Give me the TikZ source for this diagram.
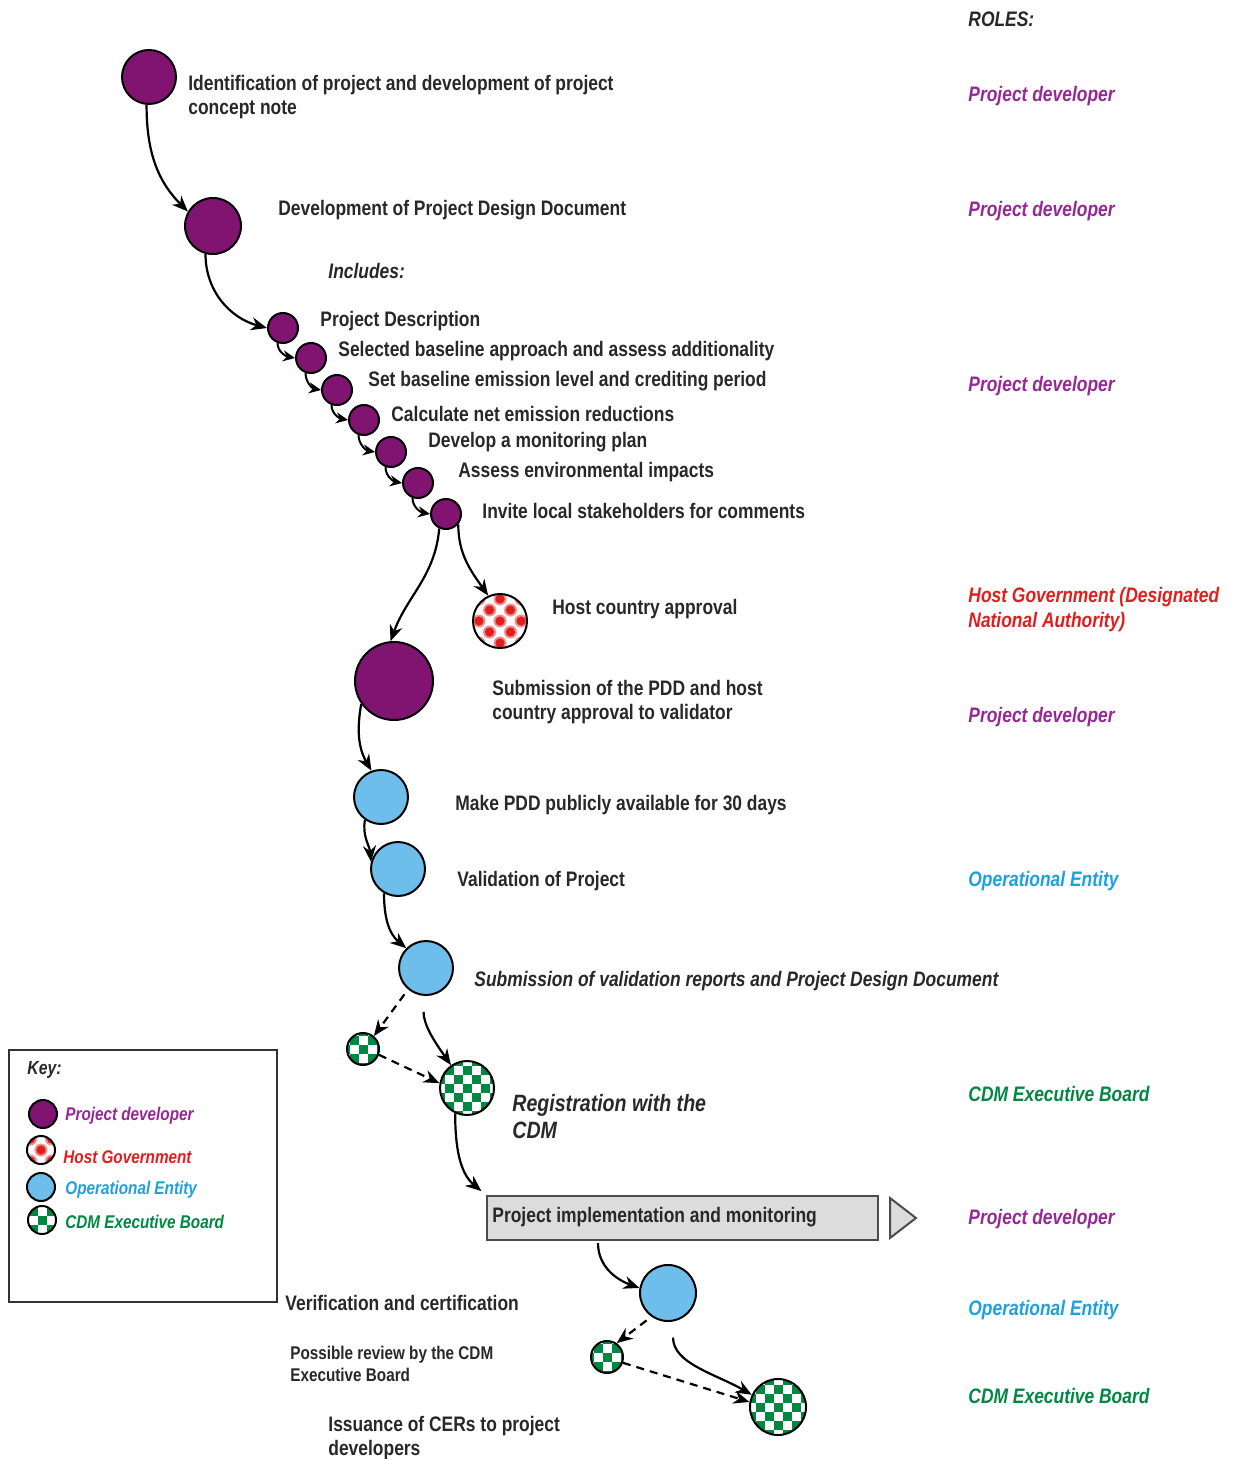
\documentclass[tikz,border=0pt]{standalone}
\usepackage{fontspec}
\setmainfont{Liberation Sans}[FakeStretch=0.83]
\usetikzlibrary{arrows.meta}
\definecolor{pdcol}{RGB}{128,20,112}
\definecolor{pdtxt}{RGB}{150,40,150}
\definecolor{oecol}{RGB}{110,190,235}
\definecolor{oetxt}{RGB}{30,160,220}
\definecolor{cdmcol}{RGB}{0,135,65}
\definecolor{hgcol}{RGB}{225,30,30}
\definecolor{txt}{RGB}{40,40,40}
\definecolor{boxfill}{RGB}{220,220,220}
\newcommand\mychecker[1]{%
  \begin{scope}[shift={(path picture bounding box.center)}]
  \foreach \i in {-4,...,4}{\foreach \j in {-4,...,4}{%
    \pgfmathtruncatemacro\kk{mod(\i+\j+8,2)}%
    \ifnum\kk=0 \fill[cdmcol] ({(\i-0.5)*#1},{(\j-0.5)*#1}) rectangle ++(#1,#1);\fi}}
  \end{scope}}
\newcommand\mydots{%
  \begin{scope}[shift={(path picture bounding box.center)}]
  \foreach \i in {-3,...,3}{\foreach \j in {-3,...,3}{%
    \pgfmathtruncatemacro\kk{mod(\i+\j+8,2)}%
    \ifnum\kk=0 \fill[hgcol!50] (\i*10.5,\j*11) circle (6.5);\fill[hgcol] (\i*10.5,\j*11) circle (4.6);\fi}}
  \end{scope}}
\tikzset{
  pd/.style={circle,draw=black,line width=1pt,fill=pdcol,inner sep=0,minimum size=#1},
  oe/.style={circle,draw=black,line width=1pt,fill=oecol,inner sep=0,minimum size=#1},
  cdm/.style={circle,draw=black,line width=1pt,fill=white,inner sep=0,minimum size=#1,path picture={\mychecker{9}}},
  hg/.style={circle,draw=black,line width=1pt,fill=white,inner sep=0,minimum size=#1,path picture={\mydots}},
  arr/.style={line width=1.1pt,draw=black,-{Stealth[length=8pt,width=6.5pt]}},
  sarr/.style={line width=1pt,draw=black,-{Stealth[length=6pt,width=5.5pt]}},
  darr/.style={arr,dash pattern=on 4pt off 3pt},
  lbl/.style={anchor=west,inner sep=0,text=txt,font=\bfseries\fontsize{10.5}{12}\selectfont,align=left},
  ilbl/.style={lbl,font=\bfseries\itshape\fontsize{10.5}{12}\selectfont},
  role/.style={anchor=west,inner sep=0,font=\bfseries\itshape\fontsize{10.5}{12.5}\selectfont,align=left},
  keytxt/.style={anchor=west,inner sep=0,font=\bfseries\itshape\fontsize{9.2}{10}\selectfont},
}
\begin{document}
\begin{tikzpicture}[x=0.5pt,y=0.5pt]
\useasboundingbox (0,0) rectangle (1236,-1459);
% roles
\node[role,text=txt] (roles) at (968,-19) {ROLES:};
\node[role,text=pdtxt] (r1) at (968,-96) {Project developer};
\node[role,text=pdtxt] (r2) at (968,-211) {Project developer};
\node[role,text=pdtxt] (r3) at (968,-386) {Project developer};
\node[role,text=hgcol] (r4) at (968,-610) {Host Government (Designated\\National Authority)};
\node[role,text=pdtxt] (r5) at (968,-717) {Project developer};
\node[role,text=oetxt] (r6) at (968,-881) {Operational Entity};
\node[role,text=cdmcol] (r7) at (968,-1094) {CDM Executive Board};
\node[role,text=pdtxt] (r8) at (968,-1219) {Project developer};
\node[role,text=oetxt] (r9) at (968,-1310) {Operational Entity};
\node[role,text=cdmcol] (r10) at (968,-1396) {CDM Executive Board};
% main circles
\node[pd=27pt] (c1) at (149,-77) {};
\node[lbl] (t1) at (188,-97) {Identification of project and development of project\\concept note};
\node[pd=28pt] (c2) at (213,-226) {};
\node[lbl] (t2) at (278,-210) {Development of Project Design Document};
\node[ilbl] (inc) at (328,-271) {Includes:};
\node[pd=15pt] (s1) at (283,-328) {};
\node[pd=15pt] (s2) at (311,-358) {};
\node[pd=15pt] (s3) at (337,-390) {};
\node[pd=15pt] (s4) at (364,-420) {};
\node[pd=15pt] (s5) at (391,-452) {};
\node[pd=15pt] (s6) at (418,-483) {};
\node[pd=15pt] (s7) at (446,-514) {};
\node[lbl] (ts1) at (320,-321) {Project Description};
\node[lbl] (ts2) at (338,-351) {Selected baseline approach and assess additionality};
\node[lbl] (ts3) at (368,-381) {Set baseline emission level and crediting period};
\node[lbl] (ts4) at (391,-414) {Calculate net emission reductions};
\node[lbl] (ts5) at (428,-442) {Develop a monitoring plan};
\node[lbl] (ts6) at (458,-472) {Assess environmental impacts};
\node[lbl] (ts7) at (482,-511) {Invite local stakeholders for comments};
\node[hg=27pt] (h1) at (500,-621) {};
\node[lbl] (th1) at (552,-609) {Host country approval};
\node[pd=39pt] (c3) at (394,-681) {};
\node[lbl] (tc3) at (492,-702) {Submission of the PDD and host\\country approval to validator};
\node[oe=27pt] (b1) at (381,-797) {};
\node[lbl] (tb1) at (455,-805) {Make PDD publicly available for 30 days};
\node[oe=27pt] (b2) at (398,-869) {};
\node[lbl] (tb2) at (457,-881) {Validation of Project};
\node[oe=27pt] (b3) at (426,-968) {};
\node[ilbl] (tb3) at (474,-981) {Submission of validation reports and Project Design Document};
\node[cdm=16pt] (k1) at (363,-1049) {};
\node[cdm=27pt] (k2) at (467,-1088) {};
\node[lbl,font=\bfseries\itshape\fontsize{11.8}{13.5}\selectfont] (tk2) at (512,-1117) {Registration with the\\CDM};
\node[draw=black!70,line width=1pt,fill=boxfill,minimum width=195.5pt,minimum height=22pt,inner sep=0] (box) at (682.5,-1218) {};
\node[lbl] (tbox) at (492,-1217) {Project implementation and monitoring};
\draw[line width=1pt,draw=black!70,fill=boxfill] (890,-1198) -- (916,-1218) -- (890,-1238) -- cycle;
\node[oe=28pt] (b4) at (668,-1293) {};
\node[lbl] (tb4) at (285,-1303) {Verification and certification};
\node[cdm=16pt] (k3) at (607,-1357) {};
\node[lbl,font=\bfseries\fontsize{9.2}{11}\selectfont] (tk3) at (290,-1364) {Possible review by the CDM\\Executive Board};
\node[cdm=28pt] (k4) at (778,-1407) {};
\node[lbl] (tk4) at (328,-1438) {Issuance of CERs to project\\developers};
% connectors
\draw[arr] (c1.265) to[out=-90,in=135] (c2.150);
\draw[arr] (c2.255) to[out=-90,in=165] (s1.west);
\draw[sarr] (s1.250) to[out=-90,in=170] (s2.west);
\draw[sarr] (s2.250) to[out=-90,in=170] (s3.west);
\draw[sarr] (s3.250) to[out=-90,in=170] (s4.west);
\draw[sarr] (s4.250) to[out=-90,in=170] (s5.west);
\draw[sarr] (s5.250) to[out=-90,in=170] (s6.west);
\draw[sarr] (s6.250) to[out=-90,in=170] (s7.west);
\draw[arr] (s7.-40) to[out=-90,in=125] (h1.115);
\draw[arr] (s7.-115) to[out=-95,in=70] (c3.95);
\draw[arr] (c3.215) to[out=-100,in=120] (b1.110);
\draw[arr] (b1.235) to[out=-100,in=95] (b2.165);
\draw[arr] (b2.240) to[out=-90,in=140] (b3.135);
\draw[darr,shorten <=3pt] (b3.-130) -- (k1.50);
\draw[arr,shorten <=8pt] (b3.-95) to[out=-90,in=125] (k2.125);
\draw[darr] (k1.-20) -- (k2.170);
\draw[arr,shorten >=3pt] (k2.-115) to[out=-90,in=140] (box.north west);
\coordinate (boxout) at (598,-1243);
\draw[arr] (boxout) to[out=-90,in=160] (b4.170);
\draw[darr,shorten <=3pt] (b4.-125) -- (k3.55);
\draw[arr,shorten <=8pt] (b4.-80) to[out=-90,in=150] (k4.155);
\draw[darr] (k3.-20) -- (k4.170);
% key
\node[draw=black!80,line width=1pt,minimum width=134pt,minimum height=126pt,inner sep=0] (key) at (143,-1176) {};
\node[anchor=west,inner sep=0,text=txt,font=\bfseries\itshape\fontsize{9.5}{10}\selectfont] (keyt) at (27,-1070) {Key:};
\node[pd=14pt] (kp) at (43,-1114) {};
\node[hg=14pt] (kh) at (41,-1150) {};
\node[oe=14pt] (ko) at (41,-1187) {};
\node[cdm=14pt] (kc) at (42,-1220) {};
\node[keytxt,text=pdtxt] (kpt) at (65,-1116) {Project developer};
\node[keytxt,text=hgcol] (kht) at (63,-1157) {Host Government};
\node[keytxt,text=oetxt] (kot) at (65,-1190) {Operational Entity};
\node[keytxt,text=cdmcol] (kct) at (65,-1222) {CDM Executive Board};
\end{tikzpicture}
\end{document}
